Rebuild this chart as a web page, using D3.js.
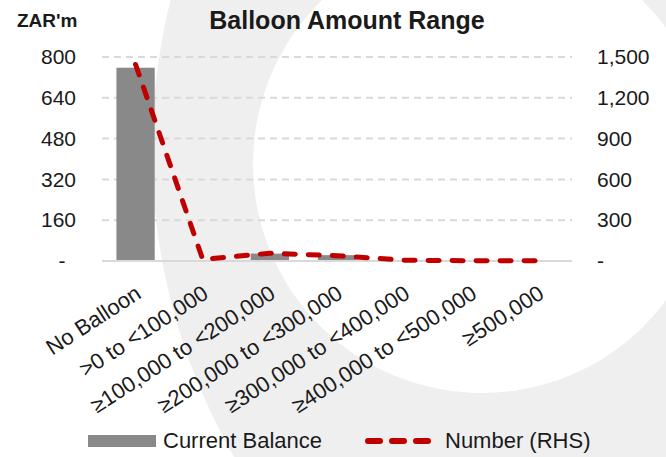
<!DOCTYPE html>
<html>
<head>
<meta charset="utf-8">
<script src="https://d3js.org/d3.v7.min.js"></script>
<style>
body { margin: 0; background: #fff; }
svg text { font-family: "Liberation Sans", Arial, sans-serif; fill: #1a1a1a; }
</style>
</head>
<body>
<div id="viz"></div>
<script>
var width = 666
var height = 457

// data
var categories = ["No Balloon", ">0 to <100,000", "\u2265100,000 to <200,000", "\u2265200,000 to <300,000",
	"\u2265300,000 to <400,000", "\u2265400,000 to <500,000", "\u2265500,000"];
var balance = [758, 2, 29, 23, 3, 1, 1];      // ZAR'm, left axis
var number = [1445, 12, 57, 39, 6, 2, 1];      // count, right axis
var leftTicks = [0, 160, 320, 480, 640, 800];
var rightTicks = [0, 300, 600, 900, 1200, 1500];

var plotLeft = 102, plotRight = 572, plotTop = 57, plotBottom = 261;

var svg = d3.select("#viz")
	.append("svg")
	.attr("width", width)
	.attr("height", height);

// background watermark ring
svg.append("circle")
	.attr("cx", 767).attr("cy", 150).attr("r", 615)
	.attr("fill", "#efefef");
svg.append("circle")
	.attr("cx", 482).attr("cy", 164).attr("r", 229)
	.attr("fill", "#fff");

var x = d3.scaleBand()
	.domain(categories)
	.range([plotLeft, plotRight])
	.paddingInner(0.43)
	.paddingOuter(0.215);

var xc = d3.scaleBand().domain(categories).range([plotLeft, plotRight]);

var yLeft = d3.scaleLinear().domain([0, 800]).range([plotBottom, plotTop]);
var yRight = d3.scaleLinear().domain([0, 1500]).range([plotBottom, plotTop]);

// gridlines
svg.selectAll(".grid")
	.data(leftTicks.filter(function(d){ return d > 0; }))
	.enter()
	.append("line")
	.attr("x1", plotLeft).attr("x2", plotRight)
	.attr("y1", function(d){ return yLeft(d); })
	.attr("y2", function(d){ return yLeft(d); })
	.attr("stroke", "#d9d9d9")
	.attr("stroke-width", 2)
	.attr("stroke-dasharray", "7,5");

// bars
svg.selectAll(".bar")
	.data(balance)
	.enter()
	.append("rect")
	.attr("x", function(d, i){ return x(categories[i]); })
	.attr("width", x.bandwidth())
	.attr("y", function(d){ return yLeft(d); })
	.attr("height", function(d){ return plotBottom - yLeft(d); })
	.attr("fill", "#898989");

// baseline
svg.append("line")
	.attr("x1", plotLeft).attr("x2", plotRight)
	.attr("y1", plotBottom).attr("y2", plotBottom)
	.attr("stroke", "#d9d9d9")
	.attr("stroke-width", 2);

// line (RHS)
var valueLine = d3.line()
	.x(function(d, i){ return xc(categories[i]) + xc.bandwidth() / 2; })
	.y(function(d){ return yRight(d); });

svg.append("path")
	.datum(number)
	.attr("d", valueLine)
	.attr("fill", "none")
	.attr("stroke", "#c00000")
	.attr("stroke-width", 5)
	.attr("stroke-linecap", "round")
	.attr("stroke-linejoin", "round")
	.attr("stroke-dasharray", "11,13");

// axes
var fmt = d3.format(",");
var leftAxis = d3.axisLeft(yLeft)
	.tickValues(leftTicks)
	.tickSize(0)
	.tickPadding(0)
	.tickFormat(function(d){ return d === 0 ? "-" : fmt(d); });

var gl = svg.append("g")
	.attr("transform", "translate(76,0)")
	.call(leftAxis);
gl.select(".domain").remove();
gl.selectAll("text")
	.attr("font-size", 21)
	.attr("font-family", null)
	.attr("fill", "#1a1a1a")
	.attr("x", function(d){ return d === 0 ? -14 : 0; })
	.attr("text-anchor", function(d){ return d === 0 ? "middle" : "end"; });

var rightAxis = d3.axisRight(yRight)
	.tickValues(rightTicks)
	.tickSize(0)
	.tickPadding(0)
	.tickFormat(function(d){ return d === 0 ? "-" : fmt(d); });

var gr = svg.append("g")
	.attr("transform", "translate(597,0)")
	.call(rightAxis);
gr.select(".domain").remove();
gr.selectAll("text")
	.attr("font-size", 21)
	.attr("font-family", null)
	.attr("fill", "#1a1a1a");

// category labels
svg.selectAll(".cat")
	.data(categories)
	.enter()
	.append("text")
	.attr("transform", function(d){
		return "translate(" + (xc(d) + xc.bandwidth() / 2 + 7) + ",297) rotate(-33)";
	})
	.attr("text-anchor", "end")
	.attr("font-size", 22)
	.text(function(d){ return d; });

// titles
svg.append("text")
	.attr("x", 347).attr("y", 29)
	.attr("text-anchor", "middle")
	.attr("font-size", 25)
	.attr("font-weight", "bold")
	.text("Balloon Amount Range");

svg.append("text")
	.attr("x", 17).attr("y", 27)
	.attr("font-size", 19)
	.attr("font-weight", "bold")
	.text("ZAR'm");

// legend
svg.append("rect")
	.attr("x", 88).attr("y", 435)
	.attr("width", 68).attr("height", 12)
	.attr("fill", "#898989");
svg.append("text")
	.attr("x", 163).attr("y", 448)
	.attr("font-size", 22)
	.text("Current Balance");

svg.append("line")
	.attr("x1", 368).attr("x2", 428)
	.attr("y1", 441).attr("y2", 441)
	.attr("stroke", "#c00000")
	.attr("stroke-width", 6)
	.attr("stroke-linecap", "round")
	.attr("stroke-dasharray", "12,12");
svg.append("text")
	.attr("x", 445).attr("y", 448)
	.attr("font-size", 22)
	.text("Number (RHS)");
</script>
</body>
</html>
